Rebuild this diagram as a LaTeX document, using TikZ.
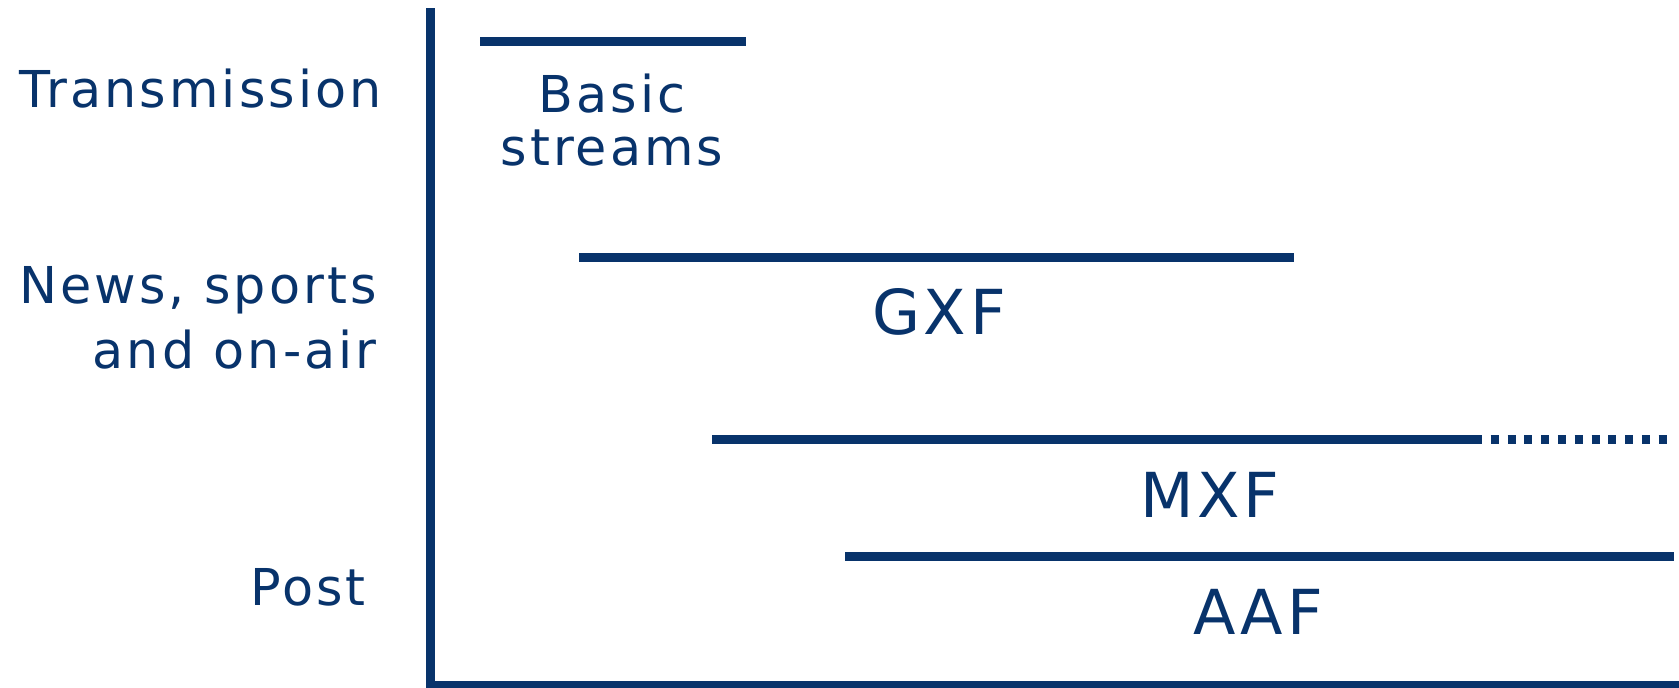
\documentclass[tikz,border=0pt]{standalone}
\usepackage{fontspec}
\setmainfont{DejaVu Sans}[LetterSpace=6]
\usetikzlibrary{positioning}
\definecolor{navy}{RGB}{8,51,107}

\begin{document}
\begin{tikzpicture}[x=0.5pt, y=-0.5pt,
    bar/.style={line width=4.5pt, draw=navy},
    lbl/.style={font=\fontsize{25.4}{32.5}\selectfont, text=navy, inner sep=0pt},
    fmt/.style={font=\fontsize{31}{36}\selectfont, text=navy, inner sep=0pt, anchor=base}
]
\useasboundingbox (0,0) rectangle (1679,687);

% axes
\draw[line width=4.5pt, draw=navy] (430,8) -- (430,685) -- (1679,685);

% application areas
\node[lbl, anchor=base east] (trans) at (382,107) {Transmission};
\node[lbl, anchor=north east, align=right] (news) at (377,266) {News, sports\\and on-air};
\node[lbl, anchor=base east] (post) at (366,605) {Post};

% format bars
\draw[bar] (480,41) -- (746,41);
\draw[bar] (579,257) -- (1294,257);
\draw[bar] (712,439) -- (1482,439);
\draw[bar, dash pattern=on 4pt off 4.4pt] (1490.7,439) -- (1667,439);
\draw[bar] (845,556) -- (1674,556);

% format names
\node[lbl, anchor=north, align=center, font=\fontsize{25.4}{26.5}\selectfont] (basic) at (612,73) {Basic\\streams};
\node[fmt] (gxf) at (939,334) {GXF};
\node[fmt] (mxf) at (1210,517) {MXF};
\node[fmt] (aaf) at (1258,634) {AAF};
\end{tikzpicture}
\end{document}
